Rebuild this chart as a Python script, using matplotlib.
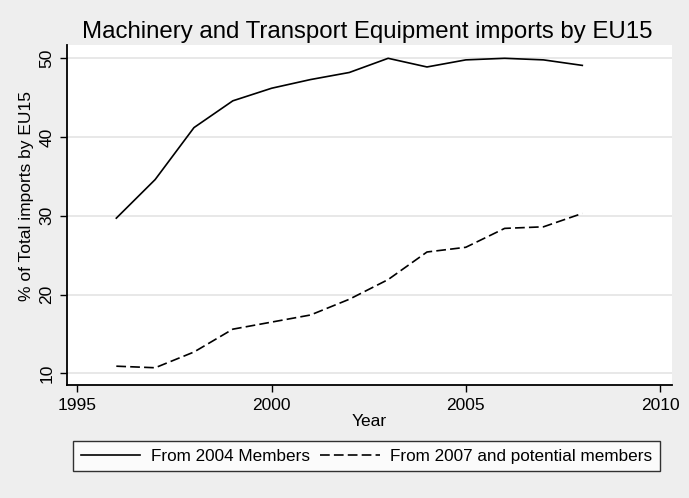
import matplotlib

matplotlib.use("Agg")
import matplotlib.pyplot as plt

years = [1996, 1997, 1998, 1999, 2000, 2001, 2002, 2003, 2004, 2005, 2006, 2007, 2008]
from_2004 = [29.7, 34.6, 41.2, 44.6, 46.2, 47.3, 48.2, 50.0, 48.9, 49.8, 50.0, 49.8, 49.1]
from_2007 = [10.9, 10.7, 12.7, 15.6, 16.5, 17.4, 19.4, 21.9, 25.4, 26.0, 28.4, 28.6, 30.3]
x_ticks = [1995, 2000, 2005, 2010]
y_ticks = [10, 20, 30, 40, 50]

plt.rcParams["font.family"] = ["Liberation Sans", "DejaVu Sans"]
plt.rcParams["lines.scale_dashes"] = False

W, H = 689, 498
BG = "#eeeeee"

fig = plt.figure(figsize=(W / 100, H / 100), dpi=100, facecolor=BG)

# plot region in pixels: left 67, right 672, top 45, bottom 385
ax = fig.add_axes([67 / W, 1 - 385 / H, (672 - 67) / W, (385 - 45) / H])
ax.set_facecolor("white")

ax.plot(years, from_2004, "-", color="black", lw=1.2, label="From 2004 Members")
ax.plot(years, from_2007, color="black", lw=1.2, ls=(0, (7, 3)),
        label="From 2007 and potential members")

ax.set_xlim(1994.73, 2010.31)
ax.set_ylim(8.51, 51.69)
ax.set_xticks(x_ticks)
ax.set_yticks(y_ticks)
ax.grid(axis="y", color="#e4e4e4", lw=1.2)
ax.set_axisbelow(True)

for side in ("top", "right"):
    ax.spines[side].set_visible(False)
for side in ("left", "bottom"):
    ax.spines[side].set_linewidth(1.3)
ax.tick_params(direction="out", length=5, width=1, labelsize=12.5, pad=4)
for lab in ax.get_yticklabels():
    lab.set_rotation(90)
    lab.set_va("center")

fig.text(367 / W, 1 - 32 / H, "Machinery and Transport Equipment imports by EU15",
         ha="center", va="center", fontsize=17.3)
fig.text(369 / W, 1 - 421 / H, "Year", ha="center", va="center", fontsize=12.5)
# the reference y title sits over the tick labels; nudge it left a little
fig.text(27 / W, 1 - 196 / H, "% of Total imports by EU15", ha="center", va="center",
         rotation=90, fontsize=12.5)

leg = fig.legend(loc="upper left", bbox_to_anchor=(73 / W, 1 - 441 / H), ncol=2,
                 fontsize=12.3, frameon=True, fancybox=False, handlelength=3.5,
                 handletextpad=0.6, columnspacing=0.6, borderpad=0.45,
                 borderaxespad=0)
leg.get_frame().set_edgecolor("black")
leg.get_frame().set_linewidth(1.0)

fig.savefig("out.png", dpi=100, facecolor=BG)
